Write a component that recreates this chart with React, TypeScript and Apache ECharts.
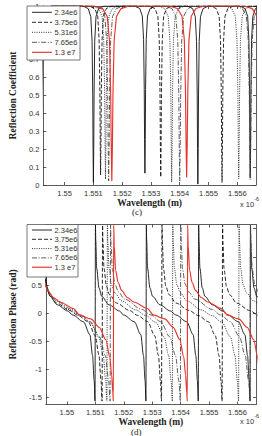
import React, { useEffect, useRef } from "react";
import * as echarts from "echarts";

// Legend labels of the five curves
const seriesNames = ["2.34e6", "3.75e6", "5.31e6", "7.65e6", "1.3 e7"];

// Resonance wavelengths (um) of each curve, neighbours just outside the window included
const resonances: number[][] = [
  [1.54918, 1.551, 1.55279, 1.55463, 1.55645, 1.55827],
  [1.54914, 1.55125, 1.55334, 1.55547, 1.5576],
  [1.54911, 1.55142, 1.55372, 1.55605, 1.55838],
  [1.54906, 1.55153, 1.554, 1.55645, 1.55892],
  [1.54904, 1.55164, 1.55424, 1.55684],
];

// Reflection coefficient at the bottom of every dip (same order as resonances)
const dipMinima: number[][] = [
  [0.02, 0.015, 0.066, 0.005, 0.04, 0.02],
  [0.02, 0.057, 0.044, 0.015, 0.02],
  [0.02, 0.033, 0.016, 0.035, 0.02],
  [0.02, 0.023, 0.023, 0.03, 0.02],
  [0.02, 0.023, 0.042, 0.02],
];

// Dip shape of each curve: [distance from resonance (nm), fraction of the dip depth]
const dipShapes: number[][][] = [
  [[0, 1], [0.012, 0.8], [0.023, 0.5], [0.046, 0.2], [0.09, 0.06], [0.18, 0.015], [0.36, 0]],
  [[0, 1], [0.013, 0.8], [0.026, 0.5], [0.052, 0.2], [0.1, 0.06], [0.2, 0.015], [0.4, 0]],
  [[0, 1], [0.015, 0.8], [0.03, 0.5], [0.06, 0.2], [0.12, 0.06], [0.24, 0.015], [0.45, 0]],
  [[0, 1], [0.017, 0.8], [0.034, 0.5], [0.068, 0.2], [0.135, 0.06], [0.27, 0.015], [0.5, 0]],
  [[0, 1], [0.02, 0.8], [0.04, 0.5], [0.08, 0.2], [0.16, 0.06], [0.32, 0.015], [0.6, 0]],
];

// Phase just above each resonance: [distance above resonance (nm), phase (rad)]
const phaseAbove: number[][][] = [
  [[0.005, 1.565], [0.016, 1.3], [0.048, 0.8], [0.13, 0.45], [0.225, 0.3], [0.48, 0.15], [0.85, 0.04]],
  [[0.005, 1.565], [0.02, 1.25], [0.055, 0.8], [0.14, 0.48], [0.25, 0.33], [0.5, 0.18], [0.95, 0.05]],
  [[0.005, 1.565], [0.022, 1.25], [0.06, 0.8], [0.15, 0.5], [0.27, 0.36], [0.5, 0.22], [1.0, 0.06]],
  [[0.006, 1.565], [0.024, 1.22], [0.068, 0.78], [0.155, 0.52], [0.28, 0.38], [0.5, 0.25], [1.1, 0.07]],
  [[0.006, 1.565], [0.026, 1.2], [0.074, 0.76], [0.16, 0.55], [0.29, 0.4], [0.48, 0.28], [0.71, 0.2], [1.2, 0.08]],
];

// Phase just below each resonance: [distance below resonance (nm), phase (rad)]
const phaseBelow: number[][][] = [
  [[0.8, -0.03], [0.42, -0.15], [0.19, -0.38], [0.097, -0.75], [0.039, -1.2], [0.01, -1.56]],
  [[0.85, -0.04], [0.5, -0.15], [0.25, -0.4], [0.12, -0.75], [0.05, -1.2], [0.012, -1.56]],
  [[0.95, -0.04], [0.6, -0.16], [0.3, -0.42], [0.14, -0.75], [0.055, -1.2], [0.012, -1.56]],
  [[1.05, -0.03], [0.7, -0.15], [0.38, -0.42], [0.18, -0.75], [0.06, -1.2], [0.01, -1.56]],
  [[1.2, -0.03], [0.8, -0.1], [0.5, -0.25], [0.27, -0.47], [0.13, -0.78], [0.065, -1.1], [0.026, -1.4], [0.006, -1.56]],
];

// Wavelength span of the computed traces (um) and the plotted window
const traceSpan = [1.548, 1.56];
const wavelengthWindow = [1.54926, 1.55665];
const wavelengthTicks = [1.55, 1.551, 1.552, 1.553, 1.554, 1.555, 1.556];
const reflectionTicks = [0, 0.1, 0.2, 0.3, 0.4, 0.5, 0.6, 0.7, 0.8, 0.9, 1];
const phaseWindow = [-1.62, 1.575];
const phaseTicks = [-1.5, -1, -0.5, 0, 0.5, 1, 1.5];

const colors = ["#111111", "#111111", "#1a1a1a", "#4a4a4a", "#e4352b"];
const dashes: any[] = ["solid", [4, 2], [1, 1.3], [5, 1.6, 1, 1.6], "solid"];
const widths = [0.9, 0.9, 0.9, 0.9, 1.15];

const SANS = "'Liberation Sans', Arial, sans-serif";
const SERIF = "'Liberation Serif', 'Times New Roman', serif";

function reflectionTrace(i: number): number[][] {
  const pts: number[][] = [[traceSpan[0], 1]];
  const shape = dipShapes[i];
  resonances[i].forEach((r, k) => {
    const depth = 1 - dipMinima[i][k];
    for (let j = shape.length - 1; j > 0; j--) {
      pts.push([r - shape[j][0] / 1000, 1 - depth * shape[j][1]]);
    }
    pts.push([r, dipMinima[i][k]]);
    for (let j = 1; j < shape.length; j++) {
      pts.push([r + shape[j][0] / 1000, 1 - depth * shape[j][1]]);
    }
  });
  pts.push([traceSpan[1], 1]);
  return pts;
}

function phaseTrace(i: number): number[][] {
  const pts: number[][] = [];
  const res = resonances[i];
  for (let k = 0; k < res.length - 1; k++) {
    phaseAbove[i].forEach(([d, p]) => pts.push([res[k] + d / 1000, p]));
    phaseBelow[i].forEach(([d, p]) => pts.push([res[k + 1] - d / 1000, p]));
  }
  return pts;
}

const fmtWl = (v: number) => String(parseFloat(v.toFixed(3)));
const fmtR = (v: number) => String(parseFloat(v.toFixed(1)));

function xAxes(gridIndex: number, nameGap: number) {
  const base = {
    type: "value",
    gridIndex,
    min: wavelengthWindow[0],
    max: wavelengthWindow[1],
    splitLine: { show: false },
    axisLine: { show: true, onZero: false, lineStyle: { color: "#333", width: 0.8 } },
    axisTick: { show: true, inside: true, length: 3, customValues: wavelengthTicks, lineStyle: { color: "#333", width: 0.8 } },
  };
  return [
    {
      ...base,
      position: "bottom",
      name: "Wavelength (m)",
      nameLocation: "middle",
      nameGap,
      nameTextStyle: { fontFamily: SERIF, fontWeight: "bold", fontSize: 9.5, color: "#222" },
      axisLabel: { show: true, customValues: wavelengthTicks, formatter: fmtWl, margin: 4, fontFamily: SANS, fontSize: 7.5, color: "#333" },
    },
    { ...base, position: "top", axisLabel: { show: false } },
  ];
}

function yAxes(gridIndex: number, name: string, win: number[], ticks: number[], nameGap: number) {
  const base = {
    type: "value",
    gridIndex,
    min: win[0],
    max: win[1],
    splitLine: { show: false },
    axisLine: { show: true, onZero: false, lineStyle: { color: "#333", width: 0.8 } },
    axisTick: { show: true, inside: true, length: 3, customValues: ticks, lineStyle: { color: "#333", width: 0.8 } },
  };
  return [
    {
      ...base,
      position: "left",
      name,
      nameLocation: "middle",
      nameGap,
      nameTextStyle: { fontFamily: SERIF, fontWeight: "bold", fontSize: 9.5, color: "#222" },
      axisLabel: { show: true, customValues: ticks, formatter: fmtR, margin: 4, fontFamily: SANS, fontSize: 7.5, color: "#333" },
    },
    { ...base, position: "right", axisLabel: { show: false } },
  ];
}

// Boxed legend drawn as graphic elements: line samples with each series' dash pattern
function legendBox(left: number, top: number, width: number, height: number, rowTop: number, rowStep: number) {
  const items: any[] = [
    {
      type: "rect",
      z: 100,
      shape: { x: left, y: top, width, height },
      style: { fill: "#fff", stroke: "#555", lineWidth: 0.8 },
    },
  ];
  seriesNames.forEach((name, i) => {
    const y = top + rowTop + i * rowStep;
    items.push({
      type: "line",
      z: 101,
      shape: { x1: left + 5, y1: y, x2: left + 25, y2: y },
      style: {
        stroke: colors[i],
        lineWidth: widths[i],
        lineDash: Array.isArray(dashes[i]) ? dashes[i] : null,
      },
    });
    items.push({
      type: "text",
      z: 101,
      x: left + 27.5,
      y,
      style: { text: name, font: `7.5px ${SANS}`, fill: "#333", align: "left", verticalAlign: "middle" },
    });
  });
  return items;
}

function exponentLabel(left: number, top: number) {
  return {
    type: "text",
    left,
    top,
    style: {
      text: "{a|x 10}{b|-6}",
      rich: {
        a: { fontFamily: SANS, fontSize: 7.5, fill: "#333", padding: [4, 0, 0, 0] },
        b: { fontFamily: SANS, fontSize: 5.5, fill: "#333", verticalAlign: "top" },
      },
    },
  };
}

export default function App() {
  const ref = useRef<HTMLDivElement>(null);

  useEffect(() => {
    if (!ref.current) return;
    const chart = echarts.init(ref.current, null, { renderer: "svg" });

    const series: any[] = [];
    seriesNames.forEach((name, i) => {
      series.push({
        name,
        type: "line",
        xAxisIndex: 0,
        yAxisIndex: 0,
        data: reflectionTrace(i),
        symbol: "none",
        showSymbol: false,
        clip: true,
        silent: true,
        color: colors[i],
        lineStyle: { color: colors[i], width: widths[i], type: dashes[i] },
      });
    });
    seriesNames.forEach((name, i) => {
      series.push({
        name,
        type: "line",
        xAxisIndex: 2,
        yAxisIndex: 2,
        data: phaseTrace(i),
        symbol: "none",
        showSymbol: false,
        clip: true,
        silent: true,
        smooth: 0.3,
        smoothMonotone: "x",
        color: colors[i],
        lineStyle: { color: colors[i], width: widths[i], type: dashes[i] },
      });
    });

    chart.setOption({
      animation: false,
      backgroundColor: "#fff",
      grid: [
        { left: 27, top: 6, width: 229, height: 179 },
        { left: 27, top: 224.5, width: 229, height: 180 },
      ],
      xAxis: [...xAxes(0, 10), ...xAxes(1, 5.5)],
      yAxis: [
        ...yAxes(0, "Reflection Coefficient", [0, 1], reflectionTicks, 19),
        ...yAxes(1, "Reflection Phase (rad)", phaseWindow, phaseTicks, 19),
      ],
      series,
      graphic: [
        ...legendBox(27, 6, 53, 54, 6.3, 10),
        ...legendBox(27, 224.5, 51, 52.5, 5.5, 9.3),
        {
          type: "text",
          left: 132,
          top: 207.5,
          style: { text: "(c)", font: `9px ${SERIF}`, fill: "#222" },
        },
        {
          type: "text",
          left: 131,
          top: 427,
          style: { text: "(d)", font: `9px ${SERIF}`, fill: "#222" },
        },
        exponentLabel(240, 196),
        exponentLabel(240, 413),
      ],
    });

    return () => chart.dispose();
  }, []);

  return (
    <div
      ref={ref}
      style={{ position: "fixed", left: 0, top: 0, width: 262, height: 436, background: "#fff" }}
    />
  );
}
